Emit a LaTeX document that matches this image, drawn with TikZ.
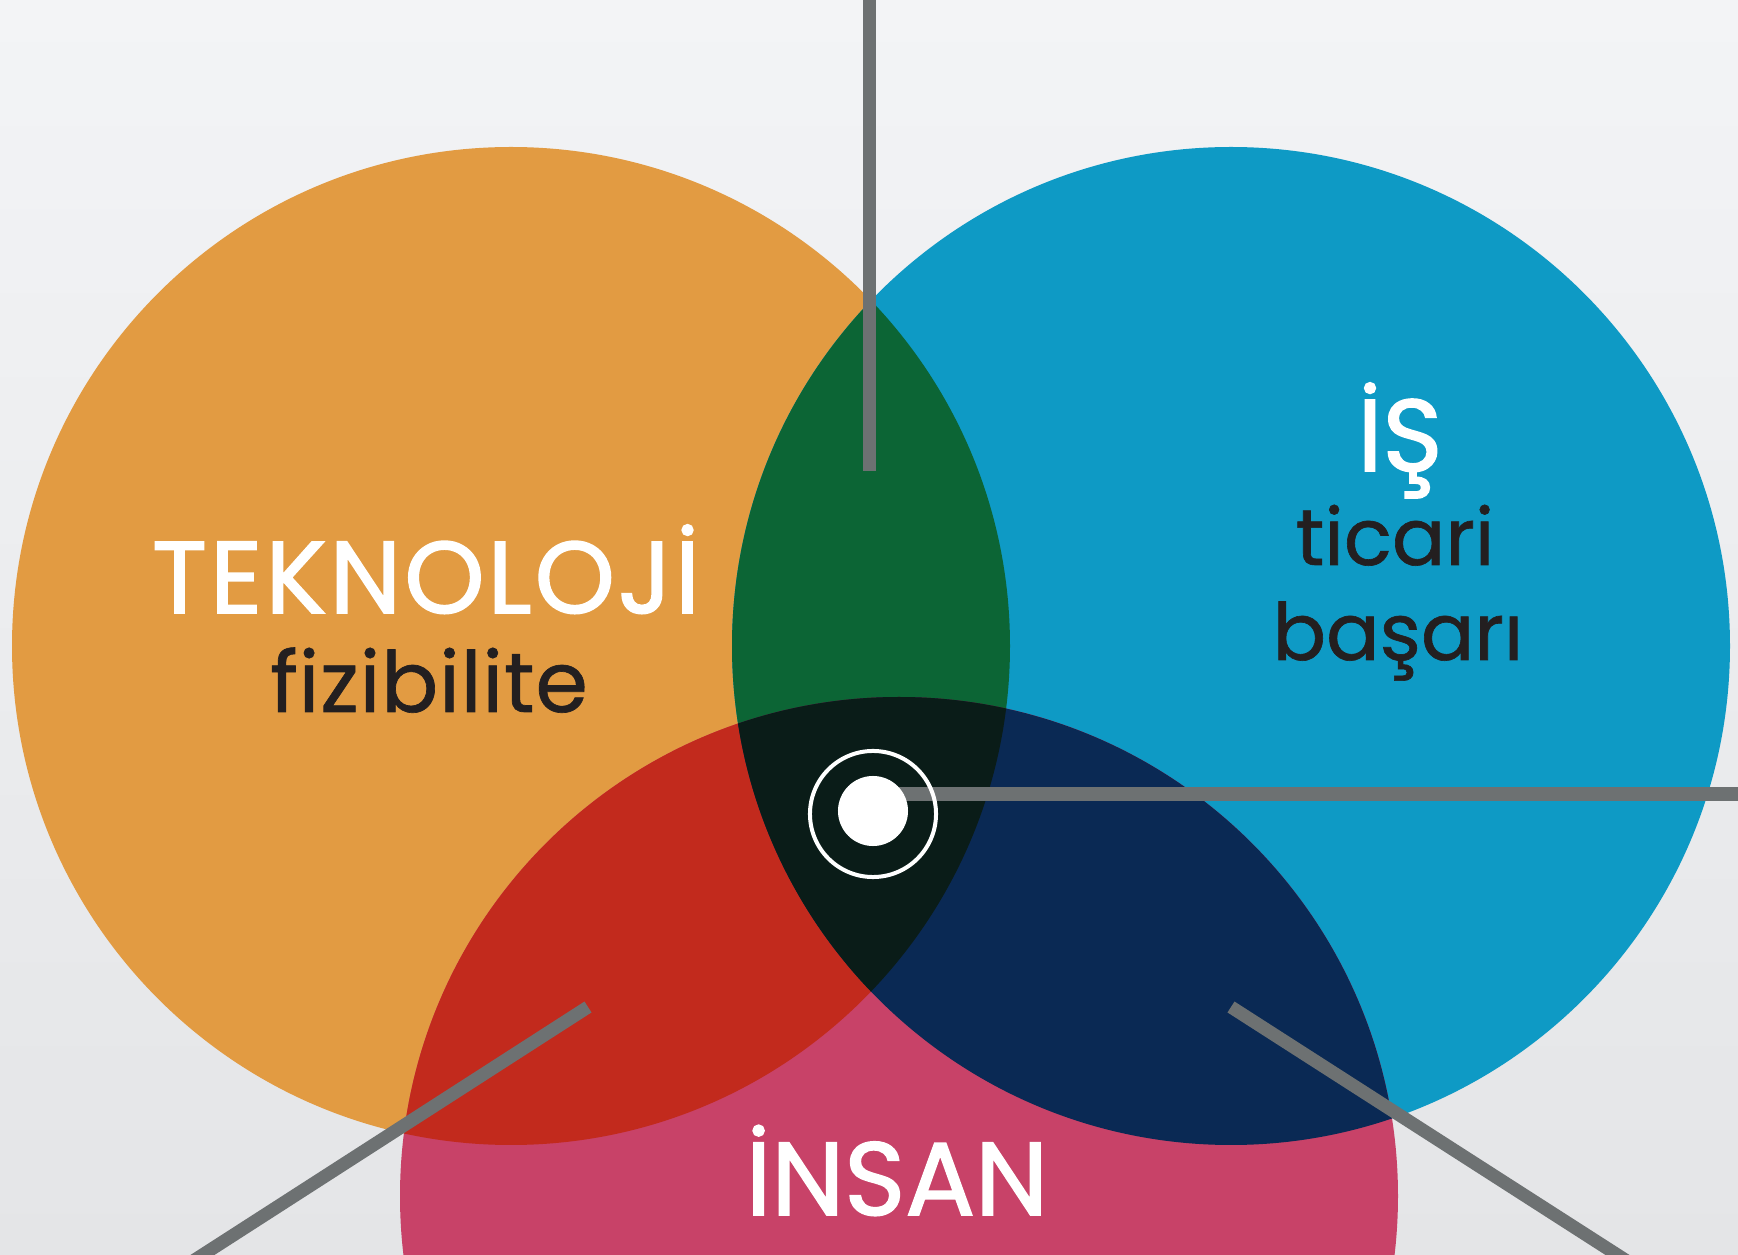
\documentclass[tikz,border=0pt]{standalone}
\usepackage{fontspec}
\setmainfont{Poppins}
\newfontfamily\bigfont[FakeBold=1.6,LetterSpace=3]{Poppins}
\newfontfamily\bigfontb[FakeBold=1.6]{Poppins}
\newfontfamily\smallfont[FakeBold=0.8,LetterSpace=1]{Poppins}
\newfontfamily\smallfontb[FakeBold=0.8]{Poppins}
\definecolor{bgA}{HTML}{F3F4F6}
\definecolor{bgB}{HTML}{E4E5E7}
\definecolor{orangeC}{HTML}{E29B42}
\definecolor{blueC}{HTML}{0E9AC5}
\definecolor{pinkC}{HTML}{C84268}
\definecolor{greenC}{HTML}{0C6535}
\definecolor{redC}{HTML}{C22A1D}
\definecolor{navyC}{HTML}{0A2954}
\definecolor{blackC}{HTML}{0A1C18}
\definecolor{barC}{HTML}{6D7172}
\definecolor{inkC}{HTML}{231F20}
\begin{document}
\begin{tikzpicture}[x=0.01cm,y=-0.01cm,
  bar/.style={draw=barC,line width=13*0.2845pt},
  bigtxt/.style={text=white,anchor=base,inner sep=0pt},
  smalltxt/.style={text=inkC,anchor=base,inner sep=0pt}]
\useasboundingbox (0,0) rectangle (1738,1255);
\shade[shading angle=150,top color=bgA,bottom color=bgB] (0,0) rectangle (1738,1255);
\begin{scope}
\clip (0,0) rectangle (1738,1255);
\def\Ra{499}
\coordinate (co) at (511,646);
\coordinate (cb) at (1231,646);
\coordinate (cp) at (899,1196);
\fill[orangeC] (co) circle (\Ra);
\fill[blueC] (cb) circle (\Ra);
\fill[pinkC] (cp) circle (\Ra);
\begin{scope}\clip (co) circle (\Ra); \fill[greenC] (cb) circle (\Ra);\end{scope}
\begin{scope}\clip (co) circle (\Ra); \fill[redC] (cp) circle (\Ra);\end{scope}
\begin{scope}\clip (cb) circle (\Ra); \fill[navyC] (cp) circle (\Ra);\end{scope}
\begin{scope}\clip (co) circle (\Ra); \clip (cb) circle (\Ra); \fill[blackC] (cp) circle (\Ra);\end{scope}
% bars
\coordinate (vt) at (869,0);
\coordinate (vb) at (869,471);
\coordinate (hr) at (1745,794);
\coordinate (ld1) at (588,1007);
\coordinate (ld2) at (190,1263);
\coordinate (rd1) at (1231,1007);
\coordinate (rd2) at (1630,1263);
\draw[bar] (vt) -- (vb);
\draw[bar] (ld1) -- (ld2);
\draw[bar] (rd1) -- (rd2);
\coordinate (hc) at (873,794);
\draw[bar] (hc) -- (hr);
\end{scope}
% target
\node[circle,draw=white,line width=4*0.2845pt,minimum size=126*0.2845pt,inner sep=0pt] (ring) at (873,814) {};
\node[circle,fill=white,minimum size=70*0.2845pt,inner sep=0pt] (dot) at (873,811) {};
% texts
\node[bigtxt,font=\bigfont\fontsize{29pt}{29pt}\selectfont] (tek) at (426,613) {TEKNOLOJİ};
\node[smalltxt,font=\smallfont\fontsize{24pt}{24pt}\selectfont] (fiz) at (429,712) {fizibilite};
\node[bigtxt,font=\bigfontb\fontsize{29pt}{29pt}\selectfont] (is) at (1400,471) {İŞ};
\node[smalltxt,font=\smallfontb\fontsize{22.5pt}{22.5pt}\selectfont] (tic) at (1395,565) {ticari};
\node[smalltxt,font=\smallfontb\fontsize{22.5pt}{22.5pt}\selectfont] (bas) at (1398,660) {başarı};
\node[bigtxt,font=\bigfontb\fontsize{29.5pt}{29.5pt}\selectfont] (ins) at (897,1215) {İNSAN};
\end{tikzpicture}
\end{document}
